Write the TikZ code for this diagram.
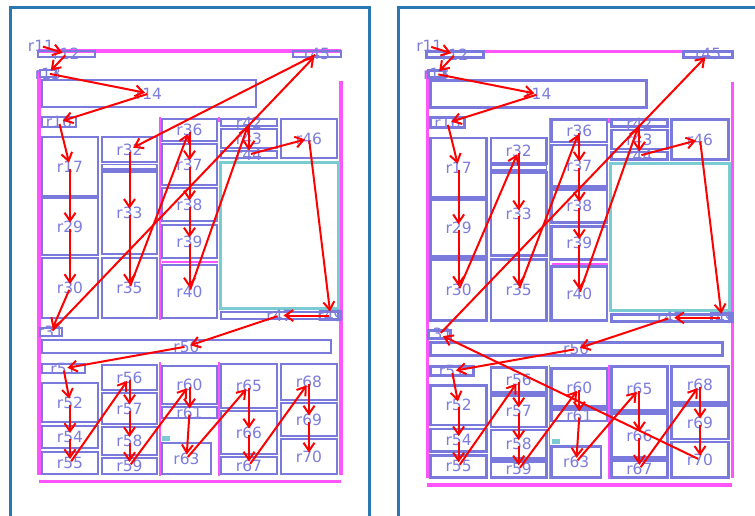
\documentclass[tikz,border=0pt]{standalone}
\usepackage{fontspec}
\setmainfont{DejaVu Sans}
\usetikzlibrary{arrows.meta}
\definecolor{bxc}{RGB}{122,122,220}
\definecolor{txc}{RGB}{125,125,222}
\definecolor{mag}{RGB}{255,85,255}
\definecolor{cyn}{RGB}{122,204,210}
\definecolor{frm}{RGB}{40,120,180}
\tikzset{
 box/.style={draw=bxc, line width=2.8pt},
 thinbox/.style={draw=bxc, line width=1.6pt},
 lbl/.style={inner sep=0pt, text=txc, font=\fontsize{15.5}{16}\selectfont},
 arr/.style={draw=red, line width=2pt, -{Straight Barb[length=8pt,width=11pt]}, shorten <=2pt, shorten >=4pt},
 magl/.style={draw=mag, line width=3.5pt},
 magt/.style={draw=mag, line width=1.5pt},
 frame/.style={draw=frm, line width=3pt},
 cyanbox/.style={draw=cyn, line width=3pt},
}
\newcommand\pfx{L}
\newcommand\bx[5]{\draw[box] (#2,#3) rectangle (#4,#5); \node[lbl] (\pfx#1) at ({(#2+#4)/2},{(#3+#5)/2}) {#1};}
\newcommand\panel{%
 \draw[magl] (38,51) -- (341,51);
 \draw[magl] (39,70) -- (39,475);
 \draw[magl] (341,81) -- (341,475);
 \draw[magl] (39,481.5) -- (341,481.5);
 \draw[magt] (160,117) -- (160,320);
 \draw[magt] (219,117) -- (219,122);
 \draw[magt] (160,362) -- (160,476);
 \draw[magt] (219,362) -- (219,476);
 \draw[magt] (162,262) -- (218,262);
 \draw[cyanbox] (220,162) rectangle (338,308);
 \fill[cyn] (162,436) rectangle (170,441);
 \draw[thinbox] (102,164.5) rectangle (157,169);
 \node[lbl] (\pfx r11) at (41,46) {r11};
 \bx{r12}{38}{51}{95}{57}
 \bx{r13}{40}{70}{56}{77}
 \bx{r14}{42}{80}{256}{107}
 \bx{r16}{42}{117}{76}{127}
 \bx{r45}{293}{51}{341}{57}
 \bx{r17}{42}{137}{98}{196}
 \bx{r29}{42}{198}{98}{255}
 \bx{r30}{42}{258}{98}{318}
 \bx{r32}{102}{137}{157}{162}
 \bx{r33}{102}{171.5}{157}{254}
 \bx{r35}{102}{258}{157}{318}
 \bx{r36}{162}{119}{217}{141}
 \bx{r37}{162}{144}{217}{185}
 \bx{r38}{162}{188}{217}{221}
 \bx{r39}{162}{225}{217}{258}
 \bx{r40}{162}{265}{217}{318}
 \bx{r42}{221}{119}{277}{126}
 \bx{r43}{221}{129}{277}{148}
 \bx{r44}{221}{151}{277}{158}
 \bx{r46}{281}{119}{337}{158}
 \bx{r47}{221}{312}{338}{319}
 \bx{r49}{320}{311.5}{341}{319.5}
 \bx{r31}{40}{328}{62}{336}
 \bx{r50}{42}{340}{331}{353}
 \bx{r51}{42}{364}{85}{373}
 \bx{r52}{42}{383}{98}{422}
 \bx{r54}{42}{426}{98}{448}
 \bx{r55}{42}{452}{98}{474}
 \bx{r56}{102}{365}{157}{390}
 \bx{r57}{102}{393}{157}{424}
 \bx{r58}{102}{427}{157}{455}
 \bx{r59}{102}{458}{157}{474}
 \bx{r60}{162}{366}{217}{404}
 \bx{r61}{162}{407}{217}{418}
 \bx{r63}{162}{443}{211}{474}
 \bx{r65}{221}{364}{277}{408}
 \bx{r66}{221}{411}{277}{454}
 \bx{r67}{221}{457}{277}{474}
 \bx{r68}{281}{364}{337}{400}
 \bx{r69}{281}{403}{337}{436}
 \bx{r70}{281}{439}{337}{474}
}
\begin{document}
\begin{tikzpicture}[x=1pt,y=-1pt]
\clip (0,0) rectangle (755,515);
\fill[white] (0,0) rectangle (755,515);
\draw[frame] (10,7.5) rectangle (369,540);
\draw[frame] (398,7.5) rectangle (780,540);
\begin{scope}
 \renewcommand\pfx{L}
 \panel
 \foreach \a/\b in {r11/r12,r12/r13,r13/r14,r14/r16,r16/r17,r17/r29,r29/r30,r30/r31,r31/r45,r45/r32,r32/r33,r33/r35,r35/r36,r36/r37,r37/r38,r38/r39,r39/r40,r40/r42,r42/r44,r44/r46,r46/r49,r49/r47,r47/r50,r50/r51,r51/r52,r52/r54,r54/r55,r55/r56,r56/r57,r57/r58,r58/r59,r59/r60,r60/r61,r61/r63,r63/r65,r65/r66,r66/r67,r67/r68,r68/r69,r69/r70}
  \draw[arr] (L\a.center) -- (L\b.center);
\end{scope}
\begin{scope}[shift={(387.9,0)},xscale=1.01,yscale=1.007]
 \renewcommand\pfx{R}
 \panel
 \foreach \a/\b in {r11/r12,r12/r13,r13/r14,r14/r16,r16/r17,r17/r29,r29/r30,r30/r32,r32/r33,r33/r35,r35/r36,r36/r37,r37/r38,r38/r39,r39/r40,r40/r42,r42/r44,r44/r46,r46/r49,r49/r47,r47/r50,r50/r51,r51/r52,r52/r54,r54/r55,r55/r56,r56/r57,r57/r58,r58/r59,r59/r60,r60/r61,r61/r63,r63/r65,r65/r66,r66/r67,r67/r68,r68/r69,r69/r70,r70/r31,r31/r45}
  \draw[arr] (R\a.center) -- (R\b.center);
\end{scope}
\end{tikzpicture}
\end{document}
